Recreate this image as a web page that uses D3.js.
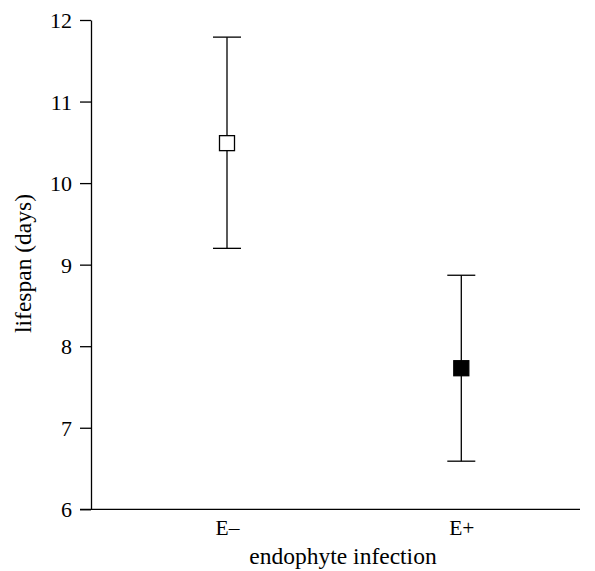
<!DOCTYPE html>
<html><head><meta charset="utf-8">
<script src="https://cdn.jsdelivr.net/npm/d3@7"></script>
<style>body{margin:0;background:#fff}svg{display:block}text{font-family:"Liberation Serif","Times New Roman",serif;fill:#000}</style>
</head><body><svg id="c" width="595" height="571"></svg>
<script>
const categories = ["E\u2013", "E+"];
const means = [10.49, 7.73];
const upper = [11.79, 8.87];
const lower = [9.20, 6.59];
const filled = [false, true];
const yTicks = [6, 7, 8, 9, 10, 11, 12];

const svg = d3.select("#c");
const y = d3.scaleLinear().domain([6, 12]).range([509.3, 20]);
const x = d3.scalePoint().domain(categories).range([227, 461.3]);

// y axis
const yAxis = d3.axisLeft(y).tickValues(yTicks).tickFormat(d3.format("d")).tickSize(11).tickPadding(8).tickSizeOuter(0);
const gy = svg.append("g").attr("transform", "translate(91,0)").call(yAxis);
gy.select(".domain").attr("stroke", "#000").attr("stroke-width", 1.3);
gy.selectAll(".tick line").attr("stroke", "#000").attr("stroke-width", 1.3);
gy.selectAll(".tick text").attr("dy", "0.34em").style("font-size", "22px")
  .style("font-family", "'Liberation Serif', serif");

// x axis
const xAxis = d3.axisBottom(x).tickSize(0).tickPadding(10).tickSizeOuter(0);
const gx = svg.append("g").attr("transform", `translate(0,${y(6)})`).call(xAxis);
gx.select(".domain").attr("d", `M80,0H580`).attr("stroke", "#000").attr("stroke-width", 1.3);
gx.selectAll(".tick text").attr("dy", "0.72em").style("font-size", "21.5px")
  .style("font-family", "'Liberation Serif', serif");

// error bars
const data = categories.map((c, i) => ({c, m: means[i], u: upper[i], l: lower[i], f: filled[i]}));
const g = svg.append("g");
g.selectAll(".v").data(data).join("line")
  .attr("x1", d => x(d.c)).attr("x2", d => x(d.c))
  .attr("y1", d => y(d.u)).attr("y2", d => y(d.l))
  .attr("stroke", "#000").attr("stroke-width", 1.3);
["u", "l"].forEach(k => {
  g.selectAll(".cap" + k).data(data).join("line")
    .attr("x1", d => x(d.c) - 14).attr("x2", d => x(d.c) + 14)
    .attr("y1", d => y(d[k])).attr("y2", d => y(d[k]))
    .attr("stroke", "#000").attr("stroke-width", 1.3);
});
g.selectAll(".pt").data(data).join("rect")
  .attr("x", d => x(d.c) - 7.5).attr("y", d => y(d.m) - 7.5)
  .attr("width", 15).attr("height", 15)
  .attr("fill", d => d.f ? "#000" : "#fff")
  .attr("stroke", "#000").attr("stroke-width", 1.3);

// labels
svg.append("text").attr("x", 343).attr("y", 564).attr("text-anchor", "middle")
  .style("font-size", "23.5px").text("endophyte infection");
svg.append("text").attr("transform", "translate(31,263.5) rotate(-90)").attr("text-anchor", "middle")
  .style("font-size", "23.5px").text("lifespan (days)");
</script></body></html>
